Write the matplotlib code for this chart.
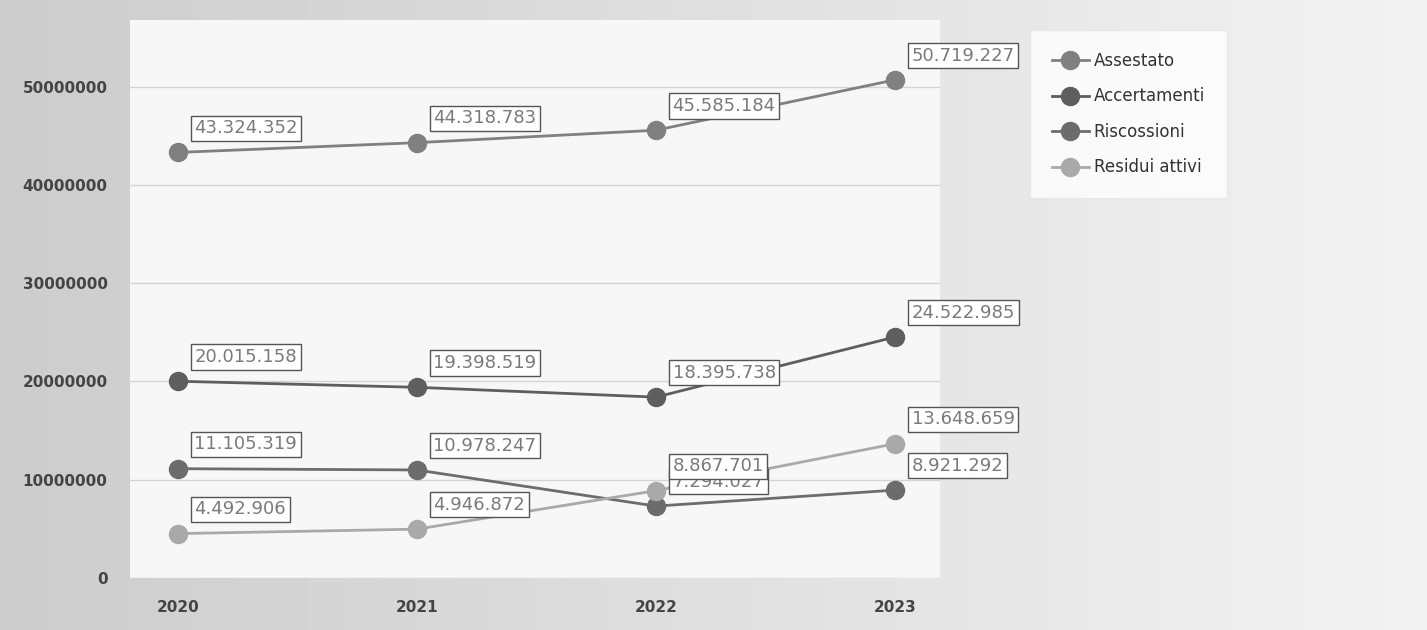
import numpy as np
import matplotlib
matplotlib.use("Agg")
import matplotlib.pyplot as plt

# data
years = ["2020", "2021", "2022", "2023"]
assestato = [43324352, 44318783, 45585184, 50719227]
accertamenti = [20015158, 19398519, 18395738, 24522985]
riscossioni = [11105319, 10978247, 7294027, 8921292]
residui = [4492906, 4946872, 8867701, 13648659]

series_names = ["Assestato", "Accertamenti", "Riscossioni", "Residui attivi"]
series_vals = [assestato, accertamenti, riscossioni, residui]
colors = ["#808080", "#5e5e5e", "#6c6c6c", "#a9a9a9"]
y_ticks = [0, 10000000, 20000000, 30000000, 40000000, 50000000]


def fmt_it(v):
    # italian thousands separator
    return f"{v:,}".replace(",", ".")


fig = plt.figure(figsize=(14.27, 6.3), dpi=100)

# scanned grey background, darker on the left
bg = fig.add_axes([0, 0, 1, 1], zorder=-10)
grad = np.linspace(0.80, 0.95, 256)[None, :]
bg.imshow(grad, aspect="auto", cmap="gray", vmin=0, vmax=1, extent=[0, 1, 0, 1])
bg.axis("off")

ax = fig.add_axes([0.091, 0.083, 0.568, 0.885])
ax.set_facecolor("#f7f7f7")
x = np.arange(len(years))

for name, vals, col in zip(series_names, series_vals, colors):
    ax.plot(x, vals, color=col, lw=2, marker="o", ms=13, label=name, zorder=3)
    for xi, v in zip(x, vals):
        ax.annotate(fmt_it(v), (xi, v), xytext=(12, 11), textcoords="offset points",
                    fontsize=13, color="#7a7a7a", ha="left", va="bottom",
                    bbox=dict(boxstyle="square,pad=0.2", fc="white", ec="#555555", lw=1),
                    zorder=4)

ax.set_xlim(-0.2, 3.19)
ax.set_ylim(0, 56800000)
ax.set_xticks(x)
ax.set_xticklabels(years, fontsize=11, fontweight="bold", color="#444444")
ax.set_yticks(y_ticks)
ax.set_yticklabels([str(t) for t in y_ticks], fontsize=11, fontweight="bold", color="#444444")
ax.tick_params(axis="y", length=0, pad=16)
ax.tick_params(axis="x", length=0, pad=16)
ax.grid(axis="y", color="#d4d4d4", lw=1)
for s in ax.spines.values():
    s.set_visible(False)

leg = fig.legend(loc="upper left", bbox_to_anchor=(0.722, 0.952), fontsize=12,
                 frameon=True, fancybox=False, borderpad=1.3, labelspacing=1.05,
                 handlelength=2.2, handletextpad=0.3, borderaxespad=0)
leg.get_frame().set_facecolor("white")
leg.get_frame().set_edgecolor("#e6e6e6")
for t in leg.get_texts():
    t.set_color("#333333")

fig.savefig("out.png", dpi=100)
